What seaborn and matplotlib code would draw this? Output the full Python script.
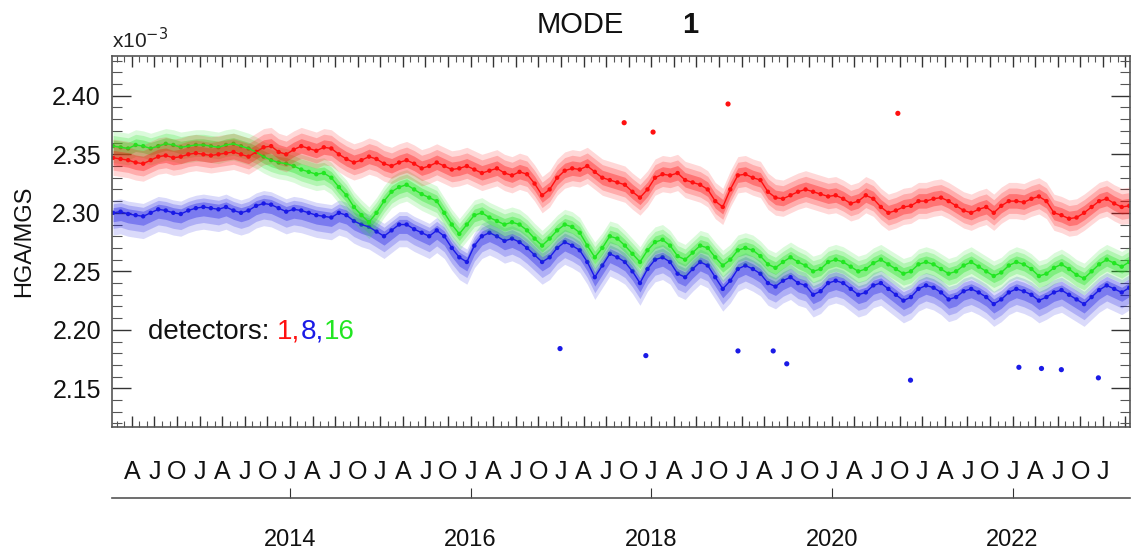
import numpy as np
import pandas as pd
import matplotlib
matplotlib.use("Agg")
import matplotlib.pyplot as plt
import seaborn as sns
from matplotlib.ticker import MultipleLocator, FixedLocator

# ---------------- data (values in units of 1e-3) ----------------
first_year = 2012
n_months = 136  # Jan 2012 .. Apr 2023, one value per month
months = [first_year + (i + 0.5) / 12 for i in range(n_months)]

det1 = [
    2.347, 2.346, 2.345, 2.343, 2.342, 2.345, 2.348, 2.349, 2.347, 2.348, 2.350, 2.351,
    2.350, 2.349, 2.350, 2.351, 2.352, 2.350, 2.348, 2.352, 2.356, 2.357, 2.352, 2.350,
    2.354, 2.357, 2.355, 2.353, 2.356, 2.355, 2.350, 2.346, 2.343, 2.345, 2.348, 2.346,
    2.342, 2.340, 2.343, 2.345, 2.342, 2.338, 2.340, 2.343, 2.340, 2.337, 2.338, 2.340,
    2.337, 2.334, 2.336, 2.338, 2.334, 2.332, 2.335, 2.333, 2.325, 2.315, 2.320, 2.330,
    2.336, 2.338, 2.337, 2.340, 2.335, 2.330, 2.328, 2.326, 2.324, 2.318, 2.313, 2.320,
    2.330, 2.333, 2.332, 2.334, 2.328, 2.326, 2.324, 2.320, 2.310, 2.305, 2.320, 2.332,
    2.333, 2.330, 2.328, 2.318, 2.313, 2.312, 2.315, 2.318, 2.320, 2.318, 2.316, 2.314,
    2.315, 2.312, 2.308, 2.310, 2.315, 2.312, 2.305, 2.300, 2.302, 2.305, 2.306, 2.310,
    2.310, 2.312, 2.313, 2.310, 2.306, 2.302, 2.300, 2.303, 2.305, 2.300, 2.306, 2.310,
    2.310, 2.309, 2.312, 2.314, 2.310, 2.300, 2.298, 2.295, 2.296, 2.300, 2.305, 2.310,
    2.312, 2.308, 2.305, 2.306,
]
det8 = [
    2.300, 2.301, 2.299, 2.298, 2.297, 2.300, 2.303, 2.302, 2.300, 2.299, 2.302, 2.304,
    2.305, 2.304, 2.303, 2.305, 2.302, 2.300, 2.302, 2.306, 2.308, 2.307, 2.304, 2.301,
    2.303, 2.302, 2.300, 2.298, 2.297, 2.296, 2.300, 2.298, 2.293, 2.290, 2.288, 2.284,
    2.280, 2.285, 2.290, 2.290, 2.286, 2.283, 2.280, 2.285, 2.280, 2.270, 2.262, 2.258,
    2.272, 2.280, 2.283, 2.280, 2.276, 2.278, 2.275, 2.270, 2.264, 2.258, 2.262, 2.270,
    2.275, 2.272, 2.268, 2.258, 2.245, 2.255, 2.265, 2.262, 2.258, 2.250, 2.240, 2.252,
    2.260, 2.262, 2.258, 2.248, 2.245, 2.252, 2.258, 2.255, 2.245, 2.235, 2.242, 2.252,
    2.255, 2.252, 2.248, 2.240, 2.237, 2.242, 2.245, 2.240, 2.238, 2.230, 2.233, 2.240,
    2.242, 2.240, 2.235, 2.230, 2.232, 2.238, 2.240, 2.235, 2.230, 2.225, 2.228, 2.235,
    2.238, 2.236, 2.232, 2.226, 2.228, 2.233, 2.235, 2.232, 2.228, 2.222, 2.226, 2.232,
    2.235, 2.233, 2.230, 2.225, 2.228, 2.232, 2.234, 2.230, 2.226, 2.222, 2.228, 2.234,
    2.238, 2.235, 2.232, 2.236,
]
det16 = [
    2.357, 2.356, 2.355, 2.358, 2.357, 2.355, 2.357, 2.359, 2.358, 2.356, 2.357, 2.358,
    2.358, 2.357, 2.356, 2.358, 2.359, 2.357, 2.355, 2.352, 2.348, 2.345, 2.343, 2.342,
    2.340, 2.337, 2.335, 2.333, 2.334, 2.330, 2.322, 2.315, 2.305, 2.298, 2.292, 2.300,
    2.310, 2.318, 2.322, 2.324, 2.320, 2.316, 2.313, 2.310, 2.300, 2.290, 2.282, 2.290,
    2.298, 2.300, 2.296, 2.293, 2.290, 2.292, 2.290, 2.285, 2.278, 2.272, 2.278, 2.285,
    2.290, 2.288, 2.283, 2.272, 2.262, 2.270, 2.280, 2.278, 2.272, 2.265, 2.258, 2.268,
    2.275, 2.277, 2.272, 2.263, 2.260, 2.266, 2.272, 2.270, 2.262, 2.255, 2.260, 2.268,
    2.270, 2.268, 2.263, 2.256, 2.253, 2.258, 2.262, 2.258, 2.255, 2.250, 2.252, 2.258,
    2.260, 2.258, 2.254, 2.250, 2.252, 2.257, 2.260, 2.256, 2.252, 2.248, 2.250, 2.256,
    2.258, 2.256, 2.252, 2.248, 2.250, 2.255, 2.258, 2.254, 2.250, 2.246, 2.249, 2.255,
    2.258, 2.256, 2.252, 2.246, 2.248, 2.253, 2.256, 2.252, 2.247, 2.244, 2.250, 2.256,
    2.260, 2.257, 2.254, 2.258,
]
# typical extent of each detector's cloud above / below its centre
spread_up = {"1": 0.016, "8": 0.011, "16": 0.013}
spread_down = {"1": 0.015, "8": 0.019, "16": 0.014}

# isolated points lying outside the clouds
out_t = [2017.70, 2018.02, 2018.85, 2020.73, 2016.99, 2017.94, 2018.96, 2019.35,
         2019.50, 2020.87, 2022.07, 2022.32, 2022.54, 2022.95]
out_v = [2.377, 2.369, 2.393, 2.385, 2.184, 2.178, 2.182, 2.182,
         2.171, 2.157, 2.168, 2.167, 2.166, 2.159]
out_det = ["1", "1", "1", "1", "8", "8", "8", "8", "8", "8", "8", "8", "8", "8"]

year_ticks = [2014, 2016, 2018, 2020, 2022]
month_letters = {1: "J", 4: "A", 7: "J", 10: "O"}

colors = {"1": "#ff1010", "8": "#1a1ae6", "16": "#22e622"}
draw_order = ["8", "16", "1"]
series = {"1": det1, "8": det8, "16": det16}

df = pd.concat(
    [pd.DataFrame({"t": months, "v": vals, "det": d}) for d, vals in series.items()],
    ignore_index=True,
)
df_out = pd.DataFrame({"t": out_t, "v": out_v, "det": out_det})

# ---------------- figure ----------------
sns.set_theme(style="white")
plt.rcParams["font.family"] = ["Liberation Sans", "DejaVu Sans"]

W, H = 1135, 551
fig = plt.figure(figsize=(W / 100, H / 100), dpi=100)
ax = fig.add_axes([112 / W, 1 - 427 / H, (1130 - 112) / W, (427 - 56) / H])

for d in draw_order:
    sub = df[df["det"] == d]
    up, dn = spread_up[d], spread_down[d]
    for frac, a in ((1.0, 0.16), (0.7, 0.22), (0.4, 0.35)):
        ax.fill_between(sub["t"], sub["v"] - dn * frac, sub["v"] + up * frac,
                        color=colors[d], alpha=a, linewidth=0)
    sns.lineplot(data=sub, x="t", y="v", ax=ax, color=colors[d], linewidth=1.0,
                 legend=False)
    sns.scatterplot(data=sub, x="t", y="v", ax=ax, color=colors[d], s=10,
                    edgecolor="none", legend=False)
    so = df_out[df_out["det"] == d]
    if len(so):
        sns.scatterplot(data=so, x="t", y="v", ax=ax, color=colors[d], s=14,
                        edgecolor="none", legend=False)

ax.set_xlim(2012.03, 2023.30)
ax.set_ylim(2.117, 2.434)
ax.set_xlabel("")
ax.set_ylabel("HGA/MGS", fontsize=17, labelpad=12, color="#111111")

# y ticks
ax.yaxis.set_major_locator(MultipleLocator(0.05))
ax.yaxis.set_minor_locator(MultipleLocator(0.01))
ax.yaxis.set_major_formatter(plt.FuncFormatter(lambda v, p: f"{v:.2f}"))
ax.tick_params(axis="y", which="major", direction="in", length=14, width=1.0,
               left=True, right=True, labelsize=18, pad=8, colors="#333333")
ax.tick_params(axis="y", which="minor", direction="in", length=7, width=0.8,
               left=True, right=True, colors="#555555")

# x ticks: quarters (labelled with month initials) and months
q_pos, q_lab = [], []
for y in range(2012, 2024):
    for m in (1, 4, 7, 10):
        t = y + (m - 1) / 12
        if 2012.03 <= t <= 2023.30:
            q_pos.append(t)
            q_lab.append(month_letters[m] if t < 2023.2 else "")
m_pos = [y + (m - 1) / 12 for y in range(2012, 2024) for m in range(1, 13)]
ax.xaxis.set_major_locator(FixedLocator(q_pos))
ax.set_xticklabels(q_lab)
ax.xaxis.set_minor_locator(FixedLocator(m_pos))
ax.tick_params(axis="x", which="major", direction="in", length=8, width=1.0,
               bottom=True, top=True, labelsize=18, pad=24, colors="#333333")
ax.tick_params(axis="x", which="minor", direction="in", length=4, width=0.8,
               bottom=True, top=True, colors="#555555")
for lab in ax.get_xticklabels() + ax.get_yticklabels():
    lab.set_color("#111111")

for sp in ax.spines.values():
    sp.set_color("#555555")
    sp.set_linewidth(1.2)

# secondary year axis below the month letters
sec = ax.secondary_xaxis(-(498 - 427) / (427 - 56))
sec.set_xticks(year_ticks)
sec.set_xticklabels([str(y) for y in year_ticks])
sec.tick_params(direction="in", length=7, width=0.8, labelsize=17, pad=22,
                colors="#333333")
for lab in sec.get_xticklabels():
    lab.set_color("#111111")
sec.spines["bottom"].set_color("#555555")
sec.spines["bottom"].set_linewidth(1.2)

# texts
fig.text(112 / W, 1 - 40 / H, r"x10$^{-3}$", fontsize=15, va="center", ha="left",
         color="#222222")
fig.text(580 / W, 1 - 25 / H, "MODE", fontsize=21, ha="center", va="center",
         color="#111111")
fig.text(690 / W, 1 - 25 / H, "1", fontsize=21, ha="center", va="center",
         color="#111111", fontweight="bold")

t0 = fig.text(148 / W, 1 - 332 / H, "detectors: ", fontsize=20, va="center",
              ha="left", color="#111111")
prev = t0
for txt, d in (("1,", "1"), ("8,", "8"), ("16", "16")):
    prev = ax.annotate(txt, xy=(1, 0), xycoords=prev, va="bottom", ha="left",
                       fontsize=20, color=colors[d])

fig.savefig("out.png", dpi=100)
